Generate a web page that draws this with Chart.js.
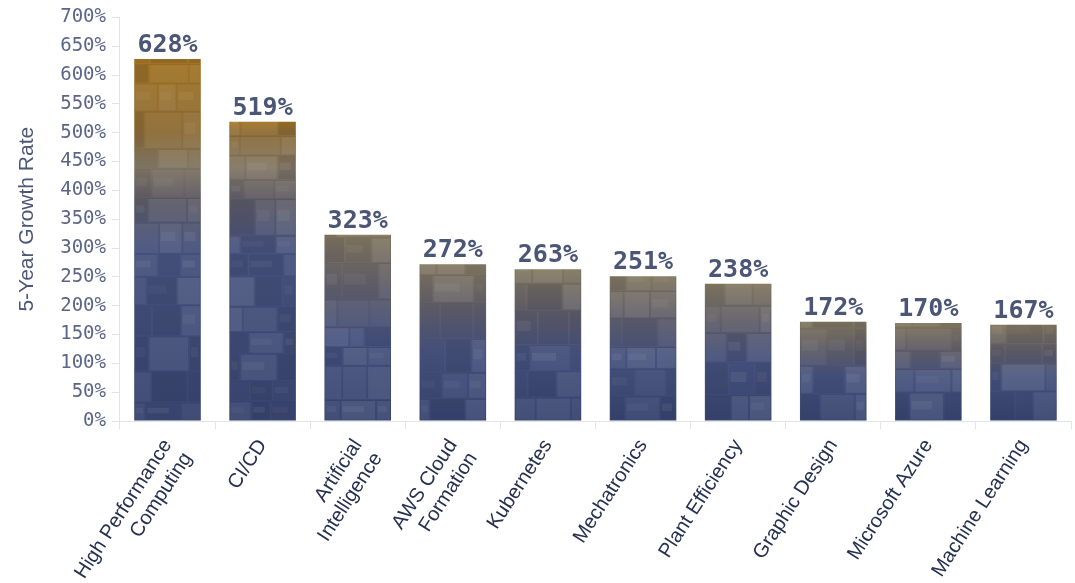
<!DOCTYPE html>
<html>
<head>
<meta charset="utf-8">
<script src="https://cdn.jsdelivr.net/npm/chart.js@4.4.0/dist/chart.umd.min.js"></script>
<style>
  html, body { margin: 0; padding: 0; background: #ffffff; }
  #wrap { width: 1075px; height: 583px; position: relative; }
</style>
</head>
<body>
<div id="wrap"><canvas id="growthChart"></canvas></div>
<script>
// data
const skills = [
    ['High Performance', 'Computing'],
    'CI/CD',
    ['Artificial', 'Intelligence'],
    ['AWS Cloud', 'Formation'],
    'Kubernetes',
    'Mechatronics',
    'Plant Efficiency',
    'Graphic Design',
    'Microsoft Azure',
    'Machine Learning',
];
const growthRates = [628, 519, 323, 272, 263, 251, 238, 172, 170, 167];
const yMax = 700;
const yStep = 50;

// bar fill: tan/gold at the top fading into navy (built from the y scale)
function barFill(ctx) {
    const chart = ctx.chart;
    const yScale = chart.scales.y;
    if (!chart.chartArea || !yScale) return '#3d4872';
    const v = ctx.raw;
    const top = yScale.getPixelForValue(v);
    const bottom = yScale.getPixelForValue(0);
    const g = chart.ctx.createLinearGradient(0, top, 0, bottom);
    const frac = (val) => Math.min(1, Math.max(0, (v - val) / v));
    if (v > 450) {
        g.addColorStop(0, '#a27423');
        g.addColorStop(frac(500), '#8c6c36');
        g.addColorStop(frac(440), '#827765');
        g.addColorStop(frac(380), '#5c5a66');
        g.addColorStop(frac(300), '#48547e');
        g.addColorStop(1, '#3a4670');
    } else {
        g.addColorStop(0, '#82775f');
        g.addColorStop(0.28, '#605e69');
        g.addColorStop(0.55, '#47537e');
        g.addColorStop(1, '#394570');
    }
    return g;
}

// soft blocky "chip" texture laid over every bar
const chipTexture = {
    id: 'chipTexture',
    afterDatasetsDraw(chart) {
        const { ctx } = chart;
        const meta = chart.getDatasetMeta(0);
        meta.data.forEach((bar, i) => {
            const { x, y, base, width } = bar.getProps(['x', 'y', 'base', 'width'], true);
            const left = x - width / 2;
            let seed = i * 7919 + 31;
            const rnd = () => { seed = (seed * 16807) % 2147483647; return seed / 2147483647; };
            ctx.save();
            ctx.beginPath();
            ctx.rect(left, y, width, base - y);
            ctx.clip();
            let rowBottom = base;
            while (rowBottom > y) {
                const h = 18 + rnd() * 20;
                const split1 = left + width * (0.15 + rnd() * 0.25);
                const split2 = left + width * (0.6 + rnd() * 0.25);
                const edges = [left, split1, split2, left + width];
                for (let c = 0; c < 3; c++) {
                    const a = 0.03 + rnd() * 0.06;
                    const light = rnd() > 0.45;
                    ctx.fillStyle = light ? `rgba(255,255,255,${a})` : `rgba(10,15,40,${a * 1.3})`;
                    ctx.fillRect(edges[c] + 1, rowBottom - h + 1, edges[c + 1] - edges[c] - 2, h - 2);
                    if (rnd() > 0.55) {
                        ctx.fillStyle = `rgba(255,255,255,${0.03 + rnd() * 0.04})`;
                        const sw = (edges[c + 1] - edges[c]) * 0.6;
                        ctx.fillRect(edges[c] + 2, rowBottom - h * 0.7, sw, h * 0.3);
                    }
                }
                ctx.strokeStyle = 'rgba(20,25,50,0.08)';
                ctx.lineWidth = 1;
                ctx.beginPath();
                ctx.moveTo(left, rowBottom - h + 0.5);
                ctx.lineTo(left + width, rowBottom - h + 0.5);
                ctx.stroke();
                rowBottom -= h;
            }
            ctx.restore();
        });
    }
};

// value labels above the bars
const valueLabels = {
    id: 'valueLabels',
    afterDatasetsDraw(chart) {
        const { ctx } = chart;
        const meta = chart.getDatasetMeta(0);
        ctx.save();
        ctx.font = 'bold 25px "DejaVu Sans Mono", monospace';
        ctx.fillStyle = '#4b5576';
        ctx.textAlign = 'center';
        ctx.textBaseline = 'alphabetic';
        meta.data.forEach((bar, i) => {
            ctx.fillText(growthRates[i] + '%', bar.x, bar.y - 7);
        });
        ctx.restore();
    }
};

const ctx = document.getElementById('growthChart');

new Chart(ctx, {
    type: 'bar',
    data: {
        labels: skills,
        datasets: [{
            data: growthRates,
            backgroundColor: barFill,
            borderWidth: 0,
            barPercentage: 0.7,
            categoryPercentage: 1.0,
        }],
    },
    options: {
        responsive: true,
        maintainAspectRatio: false,
        animation: false,
        layout: { padding: { top: 12, right: 4, left: 15, bottom: 0 } },
        plugins: {
            legend: { display: false },
            tooltip: { enabled: false },
        },
        scales: {
            x: {
                grid: { drawOnChartArea: false, color: '#e3e3e3', tickLength: 8 },
                border: { color: '#e3e3e3' },
                ticks: {
                    color: '#263050',
                    font: { family: '"Liberation Sans", Arial, sans-serif', size: 20 },
                    minRotation: 57,
                    maxRotation: 57,
                    padding: 6,
                },
                afterFit: (scale) => { scale.height = 162; },
            },
            y: {
                min: 0,
                max: yMax,
                grid: { drawOnChartArea: false, color: '#e3e3e3', tickLength: 8 },
                border: { color: '#e3e3e3' },
                ticks: {
                    stepSize: yStep,
                    color: '#5b6587',
                    font: { family: '"DejaVu Sans Mono", monospace', size: 19 },
                    padding: 6,
                    callback: (v) => v + '%',
                },
                title: {
                    display: true,
                    text: '5-Year Growth Rate',
                    color: '#4d5677',
                    font: { family: '"Liberation Sans", Arial, sans-serif', size: 21 },
                    padding: { top: 0, bottom: 14 },
                },
            },
        },
    },
    plugins: [chipTexture, valueLabels],
});
</script>
</body>
</html>
